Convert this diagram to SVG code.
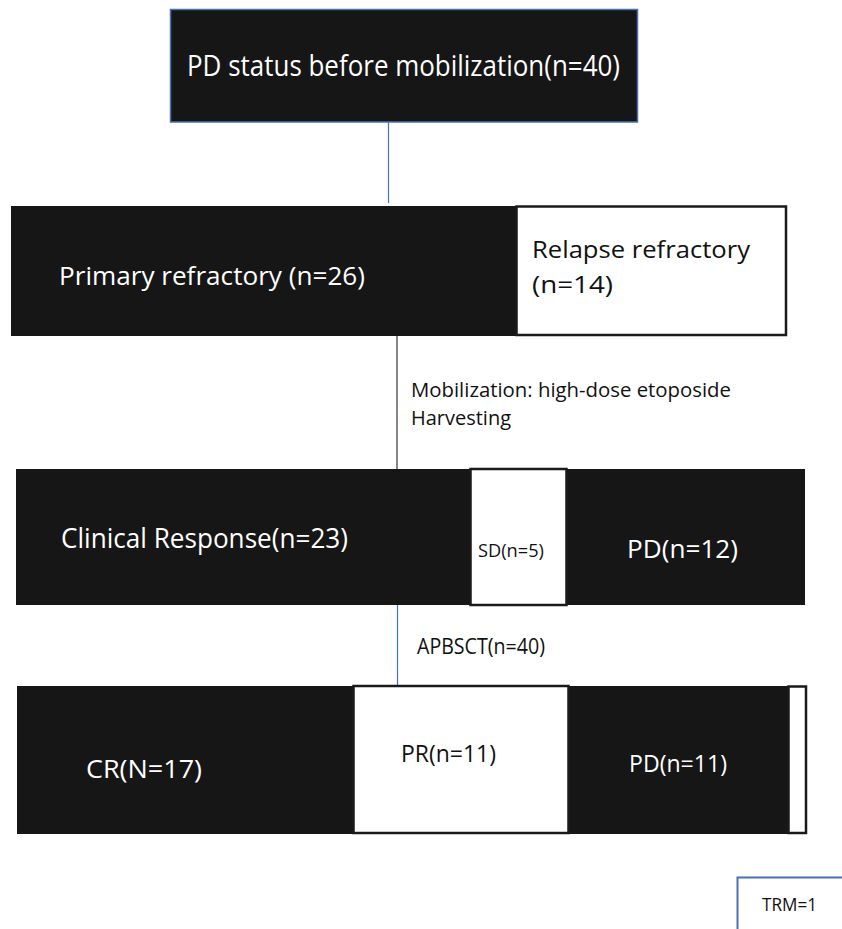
<svg xmlns="http://www.w3.org/2000/svg" width="842" height="929" viewBox="0 0 842 929">
<style>
.dark{fill:#161616}
.wbox{fill:#ffffff;stroke:#1a1a1a;stroke-width:2.5}
.t{font-family:"Open Sans","Liberation Sans",sans-serif}
.tw{fill:#ffffff}
.tb{fill:#111111}
.blue{stroke:#4472c4;stroke-width:1.2;fill:none}
.blk{stroke:#333333;stroke-width:1.2;fill:none}
</style>
<rect width="842" height="929" fill="#ffffff"/>
<g id="connectors">
<line class="blue" x1="388.5" y1="122" x2="388.5" y2="203"/>
<line class="blk" x1="397" y1="336" x2="397" y2="469"/>
<line class="blue" x1="397.5" y1="605" x2="397.5" y2="686"/>
</g>
<g id="top">
<rect x="170.5" y="9.5" width="467" height="112.5" fill="#161616" stroke="#4a6fb5" stroke-width="1.5"/>
<text class="t tw" x="187" y="76" font-size="29" textLength="433" lengthAdjust="spacingAndGlyphs">PD status before mobilization(n=40)</text>
</g>
<g id="primary">
<rect class="dark" x="11" y="206" width="506" height="130"/>
<text class="t tw" x="59" y="285" font-size="26" textLength="306" lengthAdjust="spacingAndGlyphs">Primary refractory (n=26)</text>
</g>
<g id="relapse">
<rect class="wbox" x="516.5" y="206.5" width="269.5" height="128.5" stroke-width="3"/>
<text class="t tb" x="532" y="258" font-size="24.5" textLength="218" lengthAdjust="spacingAndGlyphs">Relapse refractory</text>
<text class="t tb" x="532" y="293" font-size="24.5" textLength="81" lengthAdjust="spacingAndGlyphs">(n=14)</text>
</g>
<g id="mobilization-label">
<text class="t tb" x="411" y="397" font-size="19.5" textLength="320" lengthAdjust="spacingAndGlyphs">Mobilization: high-dose etoposide</text>
<text class="t tb" x="411" y="425" font-size="19.5" textLength="100" lengthAdjust="spacingAndGlyphs">Harvesting</text>
</g>
<g id="clinical">
<rect class="dark" x="16" y="469" width="789" height="136"/>
<text class="t tw" x="61" y="548" font-size="26.5" textLength="287" lengthAdjust="spacingAndGlyphs">Clinical Response(n=23)</text>
</g>
<g id="sd">
<rect class="wbox" x="470.5" y="469" width="96" height="136"/>
<text class="t tb" x="478" y="557" font-size="19" textLength="66" lengthAdjust="spacingAndGlyphs">SD(n=5)</text>
</g>
<g id="pd12">
<text class="t tw" x="627" y="558" font-size="25" textLength="111" lengthAdjust="spacingAndGlyphs">PD(n=12)</text>
</g>
<g id="apbsct-label">
<text class="t tb" x="417" y="654" font-size="21" textLength="128" lengthAdjust="spacingAndGlyphs">APBSCT(n=40)</text>
</g>
<g id="cr">
<rect class="dark" x="17" y="686" width="771" height="148"/>
<text class="t tw" x="86" y="778" font-size="25" textLength="116" lengthAdjust="spacingAndGlyphs">CR(N=17)</text>
</g>
<g id="pr">
<rect class="wbox" x="353.5" y="686" width="215" height="147"/>
<text class="t tb" x="401" y="762" font-size="23.4" textLength="95" lengthAdjust="spacingAndGlyphs">PR(n=11)</text>
</g>
<g id="pd11">
<text class="t tw" x="629" y="772" font-size="23.4" textLength="98" lengthAdjust="spacingAndGlyphs">PD(n=11)</text>
</g>
<g id="narrow">
<rect class="wbox" x="788.5" y="686.5" width="17.5" height="146.5"/>
</g>
<g id="trm">
<rect x="737.5" y="877.5" width="120" height="80" fill="#ffffff" stroke="#4a6fb5" stroke-width="2"/>
<text class="t tb" x="762" y="911" font-size="19" textLength="55" lengthAdjust="spacingAndGlyphs">TRM=1</text>
</g>
</svg>
